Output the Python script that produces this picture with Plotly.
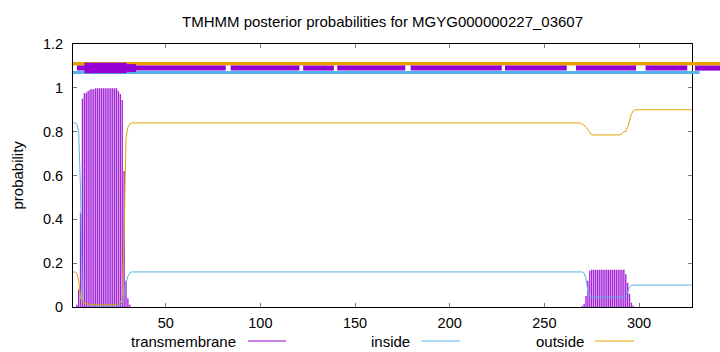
import plotly.graph_objects as go

# ---------------- data ----------------
seq_len = 328
x_ticks = [50, 100, 150, 200, 250, 300]
y_ticks = [0, 0.2, 0.4, 0.6, 0.8, 1.0, 1.2]
y_ticktext = ["0", "0.2", "0.4", "0.6", "0.8", "1", "1.2"]

# transmembrane posterior (impulses), only non-zero residues listed
tm_res = [3, 4, 5, 6, 7, 8, 9, 10, 11, 12, 13, 14, 15, 16, 17, 18, 19, 20, 21, 22,
          23, 24, 25, 26, 27, 28, 29, 30, 31,
          270, 271, 272, 273, 274, 275, 276, 277, 278, 279, 280, 281, 282, 283, 284,
          285, 286, 287, 288, 289, 290, 291, 292, 293, 294, 295, 296, 297]
tm_val = [0.01, 0.08, 0.43, 0.95, 0.975, 0.978, 0.985, 0.992, 0.993, 0.994, 0.998, 0.998,
          0.998, 0.998, 0.998, 0.998, 0.998, 0.998, 0.998, 0.998, 0.998, 0.998, 0.985,
          0.972, 0.944, 0.62, 0.12, 0.04, 0.01,
          0.005, 0.015, 0.05, 0.12, 0.165, 0.17, 0.17, 0.17, 0.17, 0.17, 0.17, 0.17, 0.17,
          0.17, 0.17, 0.17, 0.17, 0.17, 0.17, 0.17, 0.17, 0.17, 0.17, 0.15, 0.11, 0.06,
          0.02, 0.005]

# inside posterior (line)
in_res = [1, 2, 3, 4, 5, 6, 7, 9, 12, 24, 26, 27, 28, 29, 30, 31, 32, 270, 271, 272,
          273, 274, 275, 292, 293, 294, 295, 296, 328]
in_val = [0.84, 0.84, 0.835, 0.80, 0.53, 0.03, 0.02, 0.01, 0.005, 0.005, 0.01, 0.02,
          0.05, 0.11, 0.14, 0.155, 0.16, 0.16, 0.155, 0.13, 0.07, 0.05, 0.045, 0.045,
          0.05, 0.07, 0.09, 0.10, 0.10]

# outside posterior (line)
out_res = [1, 2, 3, 4, 5, 6, 8, 12, 24, 25, 26, 27, 28, 29, 30, 31, 32, 269, 270, 271,
           272, 273, 274, 275, 290, 291, 292, 293, 294, 295, 296, 297, 298, 328]
out_val = [0.16, 0.16, 0.155, 0.12, 0.04, 0.02, 0.015, 0.01, 0.01, 0.015, 0.02, 0.04,
           0.33, 0.77, 0.82, 0.835, 0.84, 0.84, 0.835, 0.83, 0.82, 0.81, 0.795, 0.785,
           0.785, 0.79, 0.80, 0.80, 0.82, 0.85, 0.88, 0.895, 0.90, 0.90]

# topology annotation strips at the top (residue segments)
ann_out_segments = [[1, 345]]
ann_in_segments = [[1, 332]]
ann_tm_segments = [[3.1, 81.7], [84.3, 120.6], [122.6, 138.8], [140.6, 176.5],
                   [179.4, 227.5], [229.2, 261.8], [266.7, 298.4],
                   [303.5, 325.5], [329.6, 345]]
ann_tm_thick_segments = [[7, 29.4]]
ann_tm_medium_segments = [[29.4, 34.3]]
ann_levels = {"outside": 1.11, "tm": 1.09, "inside": 1.07}

title_text = "TMHMM posterior probabilities for MGYG000000227_03607"
legend_names = ["transmembrane", "inside", "outside"]

C_TM = "#9400D3"
C_IN = "#56B4E9"
C_OUT = "#E69F00"
FONT = "Liberation Sans, Arial, sans-serif"

# ---------------- geometry ----------------
W, H = 720, 352
L, T, B = 73, 44, 45
plot_right = 692
paper_w = W - L
plot_h = H - T - B
x_dom_end = (plot_right - L) / paper_w
px_per_res = (plot_right - L) / (seq_len - 1)
x2_end = 1 + paper_w / px_per_res


def px2paper_x(px):
    return (px - L) / paper_w


def py2paper_y(py):
    return (H - B - py) / plot_h


def seg_xy(segs, level):
    xs, ys = [], []
    for a, b in segs:
        xs += [a, b, None]
        ys += [level, level, None]
    return xs, ys


fig = go.Figure()

# impulses
ix, iy = [], []
for r, v in zip(tm_res, tm_val):
    ix += [r, r, None]
    iy += [0, v, None]
fig.add_trace(go.Scatter(x=ix, y=iy, mode="lines", line=dict(color=C_TM, width=1.4),
                         opacity=0.85, showlegend=False, hoverinfo="skip"))
fig.add_trace(go.Scatter(x=in_res, y=in_val, mode="lines", line=dict(color=C_IN, width=1),
                         showlegend=False))
fig.add_trace(go.Scatter(x=out_res, y=out_val, mode="lines", line=dict(color=C_OUT, width=1),
                         showlegend=False))

# annotation strips on an overlay x-axis that reaches the canvas edge
for segs, lvl, col, w in [
    (ann_out_segments, ann_levels["outside"], C_OUT, 3.5),
    (ann_in_segments, ann_levels["inside"], C_IN, 3),
    (ann_tm_segments, ann_levels["tm"], C_TM, 5),
    (ann_tm_medium_segments, ann_levels["tm"], C_TM, 8),
    (ann_tm_thick_segments, ann_levels["tm"], C_TM, 10.5),
]:
    sx, sy = seg_xy(segs, lvl)
    fig.add_trace(go.Scatter(x=sx, y=sy, xaxis="x2", yaxis="y", mode="lines",
                             line=dict(color=col, width=w), showlegend=False,
                             hoverinfo="skip"))

axis_common = dict(showline=True, linecolor="black", linewidth=1, mirror="ticks",
                   ticks="inside", ticklen=4, tickcolor="#777", tickwidth=1,
                   showgrid=False, zeroline=False,
                   tickfont=dict(family=FONT, size=14.5, color="black"))

fig.update_layout(
    width=W, height=H,
    margin=dict(l=L, r=0, t=T, b=B, pad=0),
    paper_bgcolor="white", plot_bgcolor="rgba(0,0,0,0)",
    showlegend=False,
    xaxis=dict(domain=[0, x_dom_end], range=[1, seq_len], tickvals=x_ticks,
               ticklabelstandoff=3, **axis_common),
    yaxis=dict(range=[0, 1.2], tickvals=y_ticks, ticktext=y_ticktext,
               ticklabelstandoff=6, **axis_common),
    xaxis2=dict(domain=[0, 1], range=[1, x2_end], anchor="y", visible=False),
)

annotations = [
    dict(text=title_text, x=px2paper_x((L + plot_right) / 2), y=py2paper_y(21),
         xref="paper", yref="paper", showarrow=False, xanchor="center", yanchor="middle",
         font=dict(family=FONT, size=15, color="black")),
    dict(text="probability", x=px2paper_x(17), y=py2paper_y((T + H - B) / 2),
         xref="paper", yref="paper", showarrow=False, textangle=-90,
         xanchor="center", yanchor="middle",
         font=dict(family=FONT, size=15, color="black")),
]
legend_text_right = [238, 412, 586]
legend_line = [[248, 286], [421, 460], [595, 634]]
legend_cols = [C_TM, C_IN, C_OUT]
legend_y = 341
shapes = []
for name, tr, (a, b), col in zip(legend_names, legend_text_right, legend_line, legend_cols):
    annotations.append(dict(text=name, x=px2paper_x(tr), y=py2paper_y(legend_y),
                            xref="paper", yref="paper", showarrow=False,
                            xanchor="right", yanchor="middle",
                            font=dict(family=FONT, size=15, color="black")))
    shapes.append(dict(type="line", xref="paper", yref="paper",
                       x0=px2paper_x(a), x1=px2paper_x(b),
                       y0=py2paper_y(legend_y), y1=py2paper_y(legend_y),
                       line=dict(color=col, width=1)))
fig.update_layout(annotations=annotations, shapes=shapes)

fig.write_html("out.html")
